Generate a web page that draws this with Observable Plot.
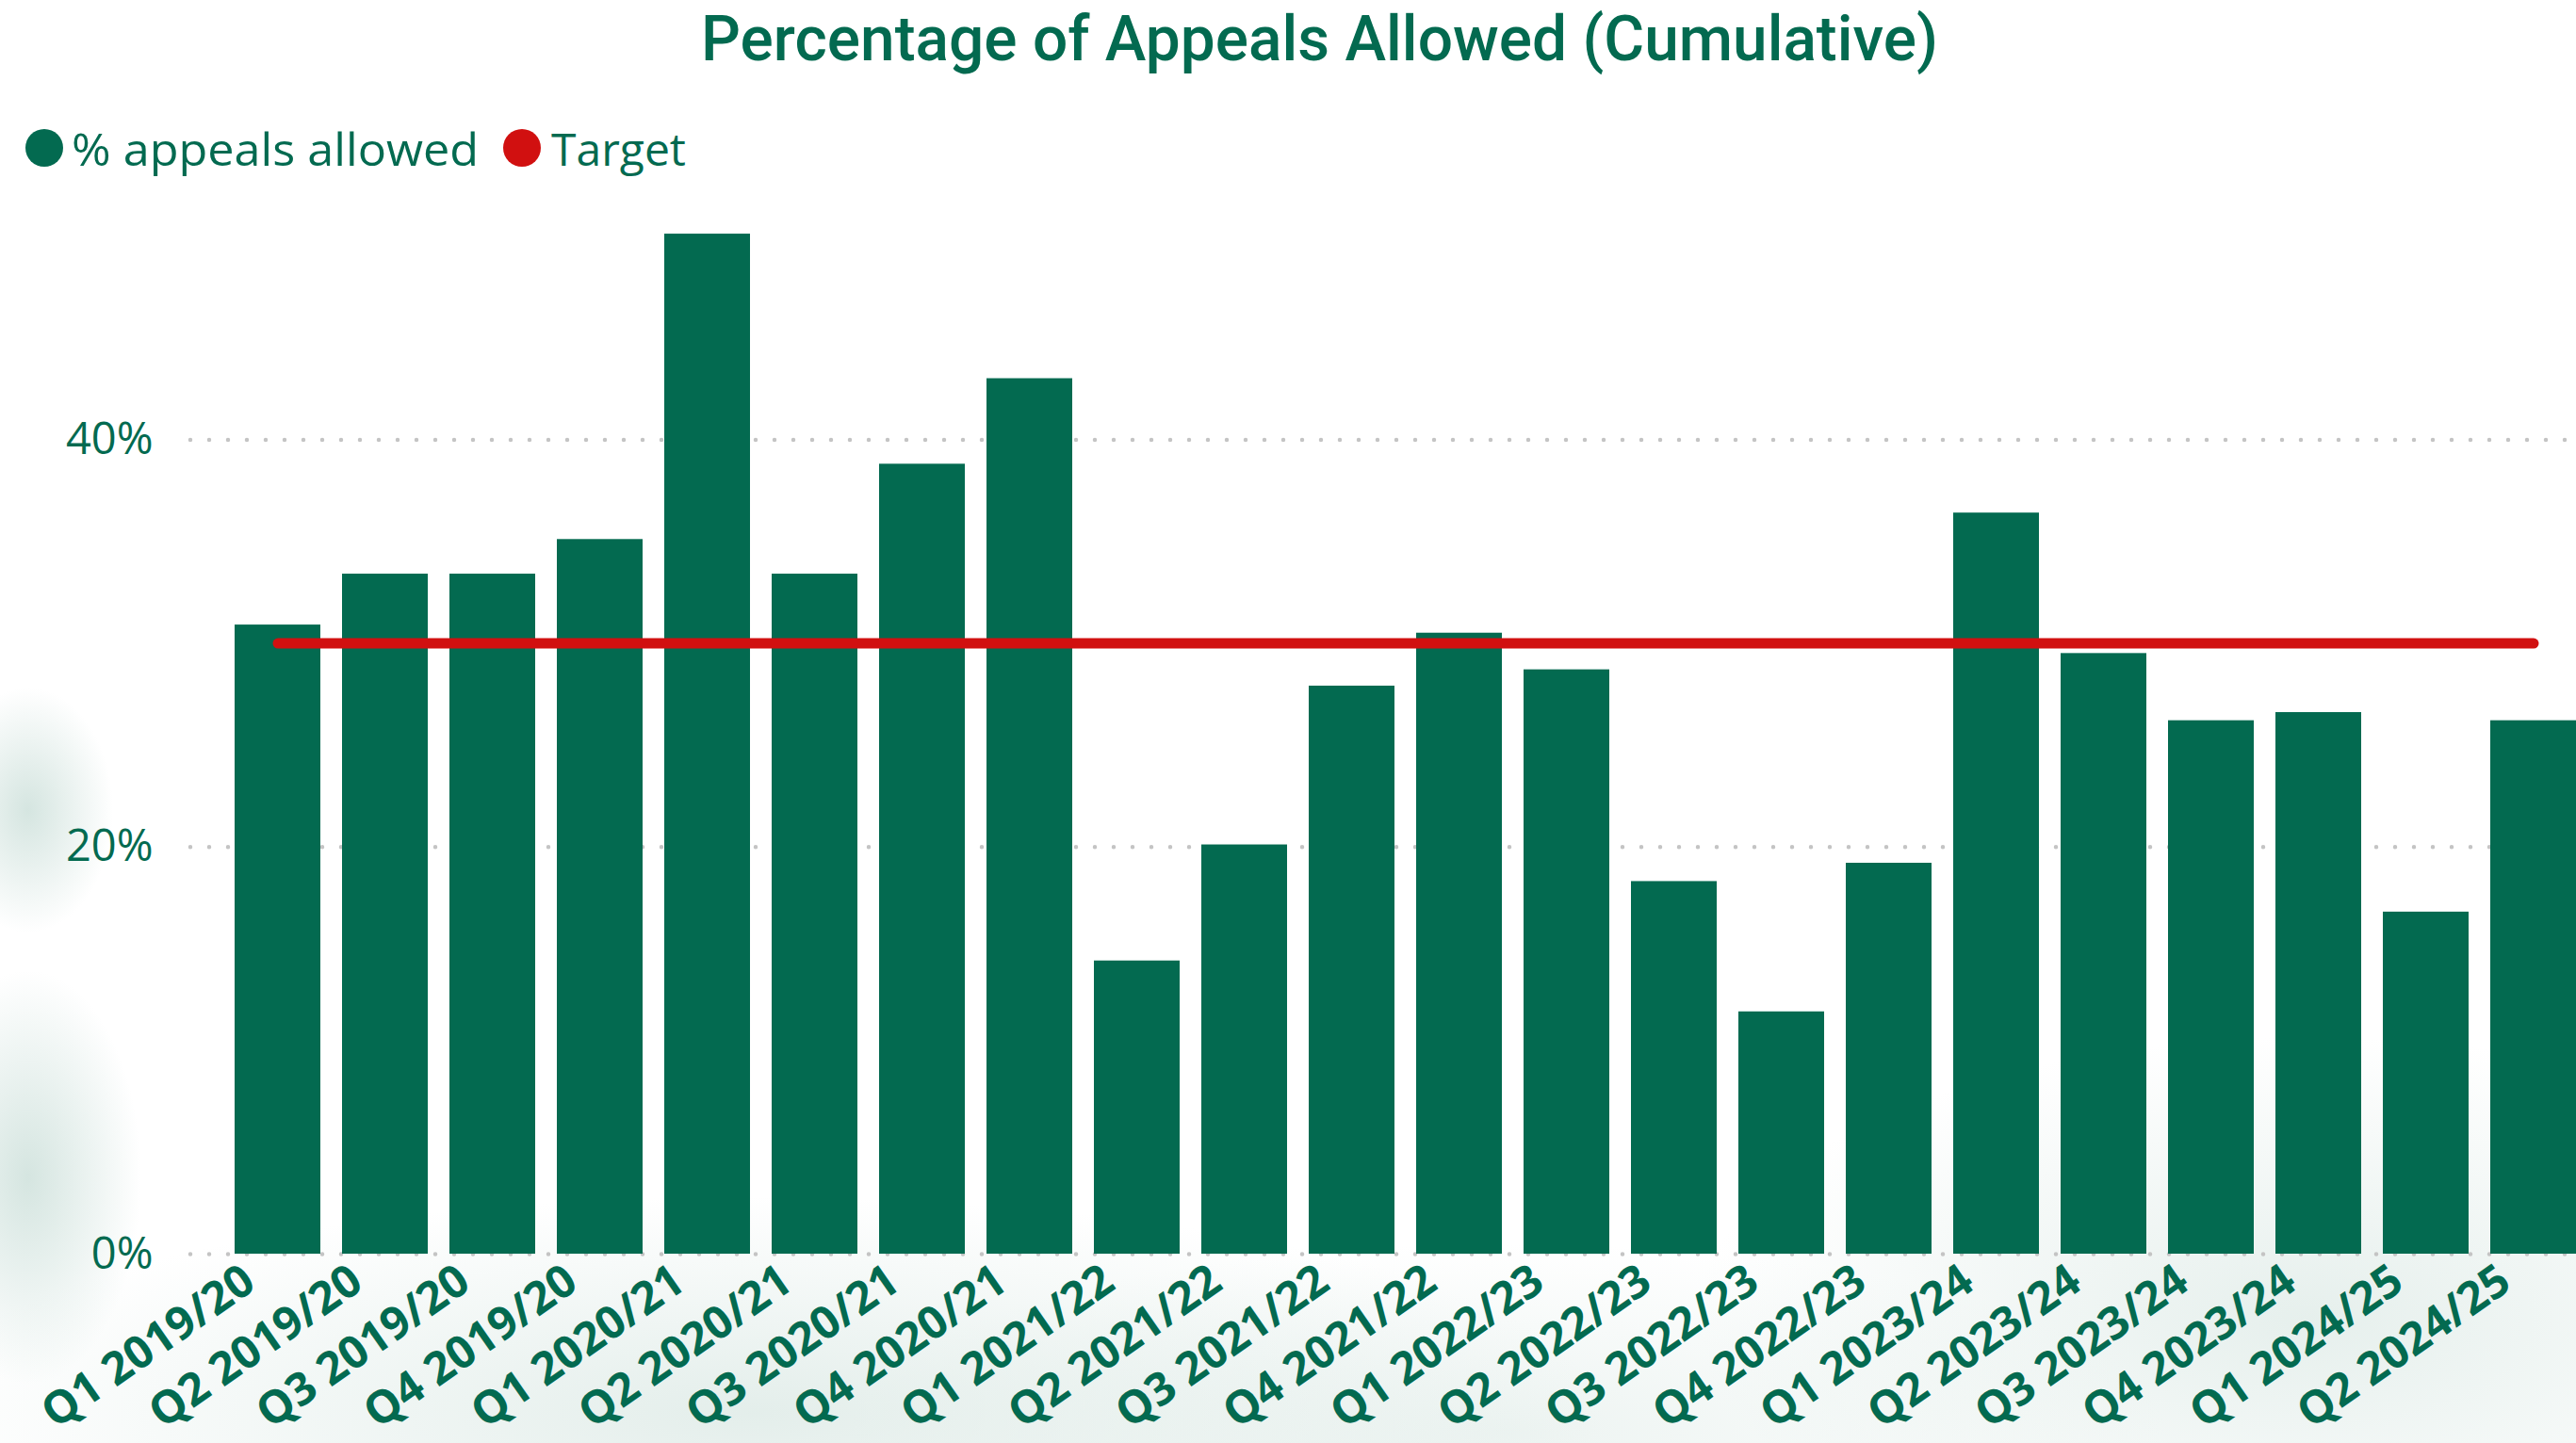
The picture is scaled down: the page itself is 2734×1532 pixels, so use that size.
<!DOCTYPE html>
<html>
<head>
<meta charset="utf-8">
<script src="https://cdn.jsdelivr.net/npm/d3@7"></script>
<script src="https://cdn.jsdelivr.net/npm/@observablehq/plot@0.6"></script>
<style>
  html, body { margin: 0; padding: 0; }
  body {
    width: 2734px; height: 1532px; overflow: hidden; position: relative;
    background:
      radial-gradient(ellipse 90px 130px at 30px 860px, rgba(185,212,204,0.6), rgba(185,212,204,0) 100%),
      radial-gradient(ellipse 120px 220px at 30px 1250px, rgba(185,212,204,0.6), rgba(185,212,204,0) 100%),
      radial-gradient(ellipse 900px 230px at 800px 1500px, rgba(205,224,218,0.55), rgba(205,224,218,0) 100%),
      radial-gradient(ellipse 700px 200px at 1600px 1520px, rgba(215,230,225,0.45), rgba(215,230,225,0) 100%),
      radial-gradient(ellipse 650px 300px at 2450px 1400px, rgba(205,224,218,0.5), rgba(205,224,218,0) 100%),
      #ffffff;
  }
  #header { position: relative; height: 200px; }
  #title {
    position: absolute; left: 744px; top: 8px; margin: 0;
    font-family: Roboto, "DejaVu Sans", sans-serif; font-weight: 500;
    font-size: 67px; line-height: 67px; color: #036A50; white-space: nowrap;
    transform-origin: 0 0;
  }
  .swatch { position: absolute; width: 40px; height: 40px; border-radius: 50%; top: 137px; }
  .legend-label {
    position: absolute; top: 135px; font-family: "Open Sans", sans-serif; font-size: 47px;
    line-height: 46px; color: #036A50; white-space: nowrap; transform-origin: 0 0;
  }
  #chart g[aria-label="x-axis tick label"] text { letter-spacing: -1.5px; }
</style>
</head>
<body>
<div id="header">
  <div id="title">Percentage of Appeals Allowed (Cumulative)</div>
  <div class="swatch" style="left:27px; background:#036A50;"></div>
  <div class="legend-label" id="leg1" style="left:76px;">% appeals allowed</div>
  <div class="swatch" style="left:534px; background:#D11010;"></div>
  <div class="legend-label" id="leg2" style="left:585px;">Target</div>
</div>
<div id="chart"></div>
<script>
const categories = [
  "Q1 2019/20", "Q2 2019/20", "Q3 2019/20", "Q4 2019/20",
  "Q1 2020/21", "Q2 2020/21", "Q3 2020/21", "Q4 2020/21",
  "Q1 2021/22", "Q2 2021/22", "Q3 2021/22", "Q4 2021/22",
  "Q1 2022/23", "Q2 2022/23", "Q3 2022/23", "Q4 2022/23",
  "Q1 2023/24", "Q2 2023/24", "Q3 2023/24", "Q4 2023/24",
  "Q1 2024/25", "Q2 2024/25"
];
const allowed = [30.9, 33.4, 33.4, 35.1, 50.1, 33.4, 38.8, 43.0, 14.4, 20.1, 27.9, 30.5,
                 28.7, 18.3, 11.9, 19.2, 36.4, 29.5, 26.2, 26.6, 16.8, 26.2];
const target = [30, 30, 30, 30, 30, 30, 30, 30, 30, 30, 30, 30,
                30, 30, 30, 30, 30, 30, 30, 30, 30, 30];
const yTicks = [0, 20, 40];

const data = categories.map((c, i) => ({quarter: c, allowed: allowed[i], target: target[i]}));

const green = "#036A50";
const red = "#D11010";

const chart = Plot.plot({
  width: 2734,
  height: 1332,
  marginTop: 7,
  marginBottom: 201,
  marginLeft: 202,
  marginRight: 0,
  style: {background: "transparent", overflow: "visible"},
  x: {domain: categories, paddingInner: 0.2, paddingOuter: 0.2, align: 1, label: null},
  y: {domain: [0, 52], label: null},
  marks: [
    Plot.ruleY(yTicks, {stroke: "#c4c4c4", strokeWidth: 4.5, strokeDasharray: "0,20", strokeLinecap: "round"}),
    Plot.barY(data, {x: "quarter", y: "allowed", fill: green}),
    Plot.line(data, {x: "quarter", y: "target", stroke: red, strokeWidth: 11, strokeLinecap: "round"}),
    Plot.axisY({ticks: yTicks, tickFormat: d => d + "%", tickSize: 0, tickPadding: 40,
      fontSize: 47, fill: green, fontFamily: "Open Sans", label: null}),
    Plot.axisX({tickSize: 0, tickRotate: -35, tickPadding: 23, dx: -30,
      fontSize: 48, fontWeight: "bold", fill: green, fontFamily: "Open Sans", label: null,
      ariaLabel: "x-axis tick label"})
  ]
});
document.getElementById("chart").appendChild(chart);

// fit header texts to the reference widths
function fit(id, target) {
  const el = document.getElementById(id);
  const w = el.getBoundingClientRect().width;
  el.style.transform = `scaleX(${target / w})`;
}
fit("title", 1313);
fit("leg1", 432);
fit("leg2", 143);
</script>
</body>
</html>
